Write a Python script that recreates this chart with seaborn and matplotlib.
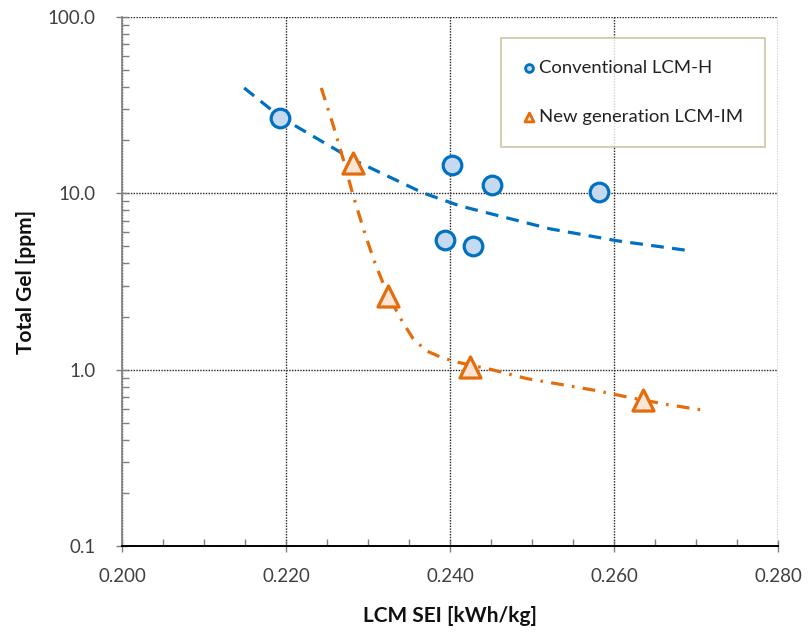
import numpy as np
import pandas as pd
import matplotlib
matplotlib.use("Agg")
import matplotlib.pyplot as plt
import matplotlib.ticker as mticker
import seaborn as sns

# measured points
conv_sei = [0.2193, 0.2402, 0.2451, 0.2582, 0.2394, 0.2428]
conv_gel = [26.9, 14.4, 11.2, 10.2, 5.45, 5.0]
new_sei = [0.2282, 0.2324, 0.2425, 0.2635]
new_gel = [14.8, 2.6, 1.04, 0.67]

# trend curves
conv_trend_sei = [0.2149, 0.2193, 0.2282, 0.2367, 0.2412, 0.2522, 0.2604, 0.2693]
conv_trend_gel = [39.6, 27.1, 15.5, 10.06, 8.49, 6.29, 5.38, 4.72]
new_trend_sei = [0.2243, 0.2257, 0.2270, 0.2281, 0.2294, 0.2307, 0.2324, 0.2342,
                 0.2355, 0.2371, 0.2390, 0.2410, 0.2451, 0.2494, 0.2537, 0.2579,
                 0.2620, 0.2665, 0.2705]
new_trend_gel = [39.6, 24.8, 15.5, 10.06, 6.37, 4.20, 2.66, 1.87,
                 1.50, 1.28, 1.17, 1.10, 1.00, 0.889, 0.822, 0.760,
                 0.694, 0.634, 0.593]

blue = "#0070C0"
blue_fill = "#C5D9F1"
orange = "#E46C0A"
orange_fill = "#FCE4D6"

sns.set_style("white")
plt.rcParams["font.family"] = ["Lato", "DejaVu Sans"]

fig, ax = plt.subplots(figsize=(8.1, 6.34), dpi=100)
fig.subplots_adjust(left=0.1506, right=0.9605, top=0.9732, bottom=0.1388)

ax.set_yscale("log")

conv_trend = pd.DataFrame({"sei": conv_trend_sei, "gel": conv_trend_gel})
new_trend = pd.DataFrame({"sei": new_trend_sei, "gel": new_trend_gel})
conv = pd.DataFrame({"sei": conv_sei, "gel": conv_gel})
new = pd.DataFrame({"sei": new_sei, "gel": new_gel})

sns.lineplot(data=conv_trend, x="sei", y="gel", sort=False, estimator=None,
             color=blue, linewidth=2.3, ax=ax, zorder=3)
ax.lines[-1].set_dashes([4, 2.6])
sns.lineplot(data=new_trend, x="sei", y="gel", sort=False, estimator=None,
             color=orange, linewidth=2.3, ax=ax, zorder=3)
ax.lines[-1].set_dashes([4, 2.6, 0.8, 2.6])

sns.scatterplot(data=conv, x="sei", y="gel", marker="o", s=180,
                color=blue_fill, edgecolor=blue, linewidth=2.3, ax=ax,
                zorder=4, label="Conventional LCM-H")
sns.scatterplot(data=new, x="sei", y="gel", marker="^", s=230,
                color=orange_fill, edgecolor=orange, linewidth=2.3, ax=ax,
                zorder=4, label="New generation LCM-IM")

ax.set_xlim(0.200, 0.280)
ax.set_ylim(0.1, 100)
ax.xaxis.set_major_locator(mticker.MultipleLocator(0.02))
ax.xaxis.set_minor_locator(mticker.MultipleLocator(0.005))
ax.xaxis.set_major_formatter(mticker.FormatStrFormatter("%.3f"))
ax.yaxis.set_major_locator(mticker.LogLocator(base=10, numticks=10))
ax.yaxis.set_minor_locator(mticker.LogLocator(base=10, subs=np.arange(2, 10), numticks=10))
ax.yaxis.set_major_formatter(mticker.FuncFormatter(lambda v, p: f"{v:.1f}"))
ax.yaxis.set_minor_formatter(mticker.NullFormatter())

ax.grid(True, which="major", color="#222222", linestyle=(0, (1, 1)), linewidth=1.0)
ax.tick_params(axis="both", which="both", bottom=True, left=True)
ax.tick_params(axis="both", which="major", direction="inout", length=8, width=1,
               labelsize=13.5, colors="#7f7f7f", labelcolor="#404040")
ax.tick_params(axis="both", which="minor", direction="in", length=5, width=1,
               colors="#7f7f7f")
ax.tick_params(axis="x", which="major", pad=12)
ax.tick_params(axis="y", which="major", pad=15)

for side in ["top", "right"]:
    ax.spines[side].set_visible(False)
ax.spines["left"].set_color("#7f7f7f")
ax.spines["bottom"].set_color("#000000")
ax.spines["left"].set_linewidth(1.2)
ax.spines["bottom"].set_linewidth(1.4)

ax.set_xlabel("LCM SEI [kWh/kg]", fontsize=15, fontweight="bold", color="#111111", labelpad=15)
ax.set_ylabel("Total Gel [ppm]", fontsize=15, fontweight="bold", color="#111111", labelpad=8)

leg = ax.legend(loc="upper right", bbox_to_anchor=(0.98, 0.96), markerscale=0.42,
                fontsize=13.3, frameon=True, fancybox=False, handletextpad=0.15,
                handlelength=0.7, labelspacing=1.75, borderpad=1.2, borderaxespad=0)
leg.get_frame().set_edgecolor("#C4BD97")
leg.get_frame().set_linewidth(1.3)
for h in leg.legend_handles:
    h.set_linewidth(2.0)
for t in leg.get_texts():
    t.set_color("#222222")

fig.savefig("out.png", dpi=100)
